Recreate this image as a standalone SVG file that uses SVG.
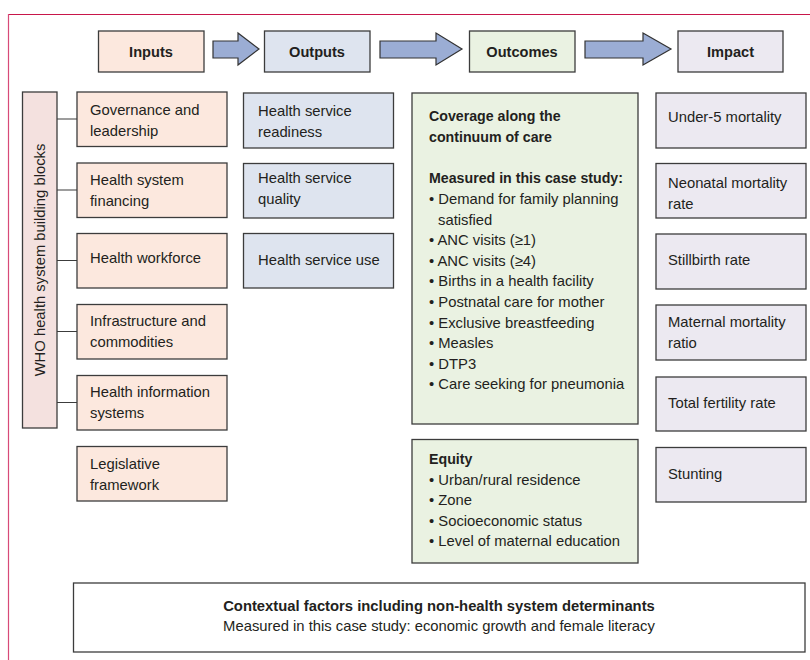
<svg xmlns="http://www.w3.org/2000/svg" width="810" height="660" viewBox="0 0 810 660">
<style>
text{font-family:"Liberation Sans",Arial,sans-serif;font-size:14.8px;fill:#231f20}
.b{font-weight:bold;font-size:14.2px}
.h{font-weight:bold;font-size:14.6px}
.t{font-weight:bold;font-size:14.8px}
.c{text-anchor:middle}
.box{stroke:#3c3c3c;stroke-width:1.3}
.in{fill:#fce8de}
.who{fill:#f4e1df}
.out{fill:#dee4ef}
.oc{fill:#eaf2e2}
.im{fill:#ece9f1}
.wh{fill:#ffffff}
.arr{fill:#9badd4;stroke:#333;stroke-width:1.2}
.ln{stroke:#3c3c3c;stroke-width:1.2;fill:none}
</style>
<rect width="810" height="660" fill="#fff"/>
<g id="frame">
<line x1="8" y1="14.5" x2="810" y2="14.5" stroke="#c8164a" stroke-width="1.2"/>
<line x1="8.5" y1="14" x2="8.5" y2="660" stroke="#d84a78" stroke-width="1.2"/>
</g>

<g id="connectors">
<path class="arr" d="M213,41 H238 V33 L259,49 L238,65 V58 H213 Z"/>
<path class="arr" d="M380,41 H436 V33 L462,49 L436,65 V58 H380 Z"/>
<path class="arr" d="M585,41 H643 V33 L671,49 L643,65 V58 H585 Z"/>
<path class="ln" d="M57,119 H77 M57,190 H77 M57,260.5 H77 M57,331.5 H77 M57,402.5 H77"/>
</g>

<g id="hdr-inputs"><rect class="box in" x="98.5" y="31" width="105.5" height="41"/><text class="h c" x="151" y="56.5">Inputs</text></g>
<g id="hdr-outputs"><rect class="box out" x="264.5" y="31" width="105.5" height="41"/><text class="h c" x="317" y="56.5">Outputs</text></g>
<g id="hdr-outcomes"><rect class="box oc" x="469.5" y="31" width="105.5" height="41"/><text class="h c" x="522" y="56.5">Outcomes</text></g>
<g id="hdr-impact"><rect class="box im" x="678" y="31" width="105" height="41"/><text class="h c" x="730.5" y="56.5">Impact</text></g>

<g id="who-blocks"><rect class="box who" x="22.5" y="92" width="34.5" height="336"/><text class="c" transform="translate(45,260) rotate(-90)">WHO health system building blocks</text></g>

<g id="in-governance"><rect class="box in" x="77" y="92" width="150" height="54.5"/><text x="90" y="115">Governance and</text><text x="90" y="135.5">leadership</text></g>
<g id="in-financing"><rect class="box in" x="77" y="163" width="150" height="54.5"/><text x="90" y="185">Health system</text><text x="90" y="205.5">financing</text></g>
<g id="in-workforce"><rect class="box in" x="77" y="233.5" width="150" height="54.5"/><text x="90" y="263">Health workforce</text></g>
<g id="in-infrastructure"><rect class="box in" x="77" y="304.5" width="150" height="54.5"/><text x="90" y="326">Infrastructure and</text><text x="90" y="346.5">commodities</text></g>
<g id="in-information"><rect class="box in" x="77" y="375.5" width="150" height="54.5"/><text x="90" y="397">Health information</text><text x="90" y="417.5">systems</text></g>
<g id="in-legislative"><rect class="box in" x="77" y="446.5" width="150" height="54.5"/><text x="90" y="469">Legislative</text><text x="90" y="489.5">framework</text></g>

<g id="out-readiness"><rect class="box out" x="243.5" y="93" width="150" height="55"/><text x="258" y="116">Health service</text><text x="258" y="136.5">readiness</text></g>
<g id="out-quality"><rect class="box out" x="243.5" y="163.5" width="150" height="54.5"/><text x="258" y="183">Health service</text><text x="258" y="203.5">quality</text></g>
<g id="out-use"><rect class="box out" x="243.5" y="233.5" width="150" height="54.5"/><text x="258" y="265">Health service use</text></g>

<g id="oc-coverage"><rect class="box oc" x="412" y="93" width="226" height="331"/>
<text class="b" x="429" y="121">Coverage along the</text>
<text class="b" x="429" y="142">continuum of care</text>
<text class="b" x="429" y="183">Measured in this case study:</text>
<text x="429" y="204">• Demand for family planning</text>
<text x="438" y="224.6">satisfied</text>
<text x="429" y="245.2">• ANC visits (≥1)</text>
<text x="429" y="265.8">• ANC visits (≥4)</text>
<text x="429" y="286.4">• Births in a health facility</text>
<text x="429" y="307">• Postnatal care for mother</text>
<text x="429" y="327.6">• Exclusive breastfeeding</text>
<text x="429" y="348.2">• Measles</text>
<text x="429" y="368.8">• DTP3</text>
<text x="429" y="389.4">• Care seeking for pneumonia</text>
</g>
<g id="oc-equity"><rect class="box oc" x="412" y="439.5" width="226" height="123.5"/>
<text class="b" x="429" y="464">Equity</text>
<text x="429" y="484.6">• Urban/rural residence</text>
<text x="429" y="505.2">• Zone</text>
<text x="429" y="525.8">• Socioeconomic status</text>
<text x="429" y="546.4">• Level of maternal education</text>
</g>

<g id="im-under5"><rect class="box im" x="656" y="93" width="150" height="55"/><text x="668" y="122">Under-5 mortality</text></g>
<g id="im-neonatal"><rect class="box im" x="656" y="163.5" width="150" height="54.5"/><text x="668" y="188">Neonatal mortality</text><text x="668" y="208.5">rate</text></g>
<g id="im-stillbirth"><rect class="box im" x="656" y="234" width="150" height="55"/><text x="668" y="265">Stillbirth rate</text></g>
<g id="im-maternal"><rect class="box im" x="656" y="305" width="150" height="55"/><text x="668" y="327">Maternal mortality</text><text x="668" y="347.5">ratio</text></g>
<g id="im-fertility"><rect class="box im" x="656" y="377" width="150" height="54"/><text x="668" y="408">Total fertility rate</text></g>
<g id="im-stunting"><rect class="box im" x="656" y="447.5" width="150" height="54.5"/><text x="668" y="479">Stunting</text></g>

<g id="contextual"><rect class="box wh" x="73.5" y="583" width="731.5" height="69"/>
<text class="t c" x="439" y="611">Contextual factors including non-health system determinants</text>
<text class="c" x="439" y="630.5">Measured in this case study: economic growth and female literacy</text>
</g>
</svg>
